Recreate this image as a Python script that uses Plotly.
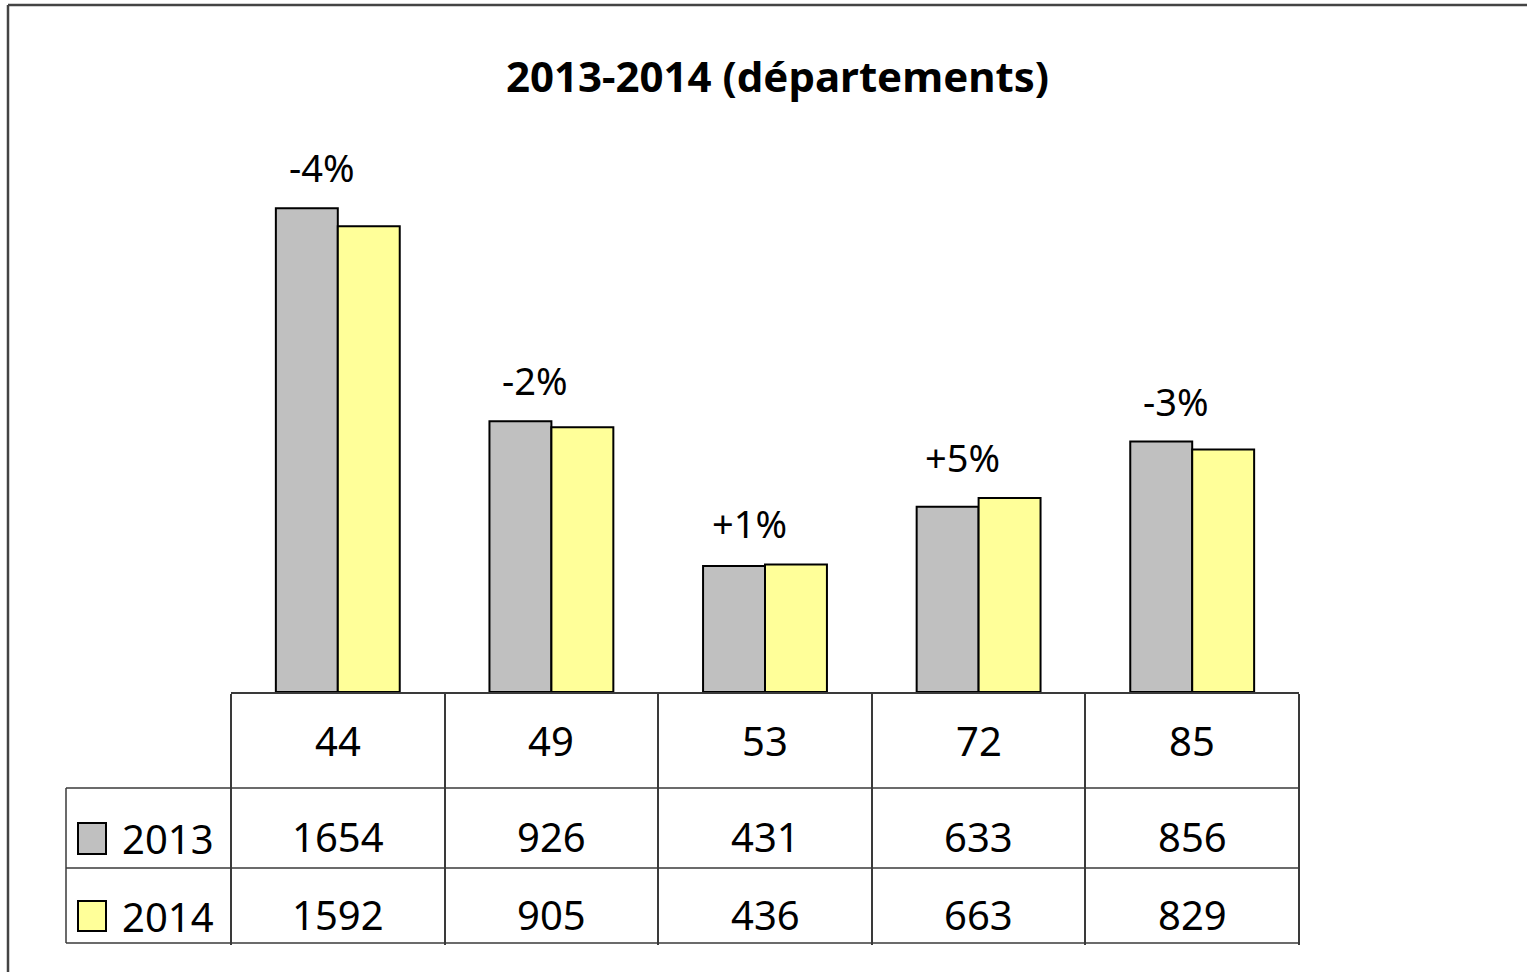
import plotly.graph_objects as go

# ---- data ----
departements = ["44", "49", "53", "72", "85"]
series_names = ["2013", "2014"]
values_2013 = [1654, 926, 431, 633, 856]
values_2014 = [1592, 905, 436, 663, 829]
color_2013 = "#C0C0C0"
color_2014 = "#FFFF99"

W, H = 1527, 972
FONT = "Noto Sans"

def px(x):
    return x / W

def py(y):
    return 1 - y / H

# plot area in pixels
X0, X1 = 231, 1299
Y_TOP, Y_BASE = 107, 692
Y_MAX = 2000

fig = go.Figure()
fig.add_trace(go.Bar(x=departements, y=values_2013, name=series_names[0],
                     marker=dict(color=color_2013, line=dict(color="black", width=2))))
fig.add_trace(go.Bar(x=departements, y=values_2014, name=series_names[1],
                     marker=dict(color=color_2014, line=dict(color="black", width=2))))

annotations = []
# percentage change labels
for i, (a, b) in enumerate(zip(values_2013, values_2014)):
    pct = round((b - a) / a * 100)
    txt = f"{pct:+d}%"
    annotations.append(dict(x=i, y=max(a, b), xref="x", yref="y", text=txt,
                            showarrow=False, xshift=-16, yshift=41,
                            yanchor="middle",
                            font=dict(family=FONT, size=38, color="black")))

# table text
row_header_y, row13_y, row14_y = 740, 836, 914
for i, (d, a, b) in enumerate(zip(departements, values_2013, values_2014)):
    for txt, yy in [(d, row_header_y), (str(a), row13_y), (str(b), row14_y)]:
        annotations.append(dict(x=i, y=py(yy), xref="x", yref="paper", text=txt,
                                showarrow=False, xanchor="center", yanchor="middle",
                                font=dict(family=FONT, size=40, color="black")))

# legend labels in table
for name, yy in zip(series_names, [row13_y + 2, row14_y + 2]):
    annotations.append(dict(x=px(168), y=py(yy), xref="paper", yref="paper", text=name,
                            showarrow=False, xanchor="center", yanchor="middle",
                            font=dict(family=FONT, size=40, color="black")))

# title
annotations.append(dict(x=px(777), y=py(76), xref="paper", yref="paper",
                        text="<b>2013-2014 (départements)</b>", showarrow=False,
                        xanchor="center", yanchor="middle",
                        font=dict(family=FONT, size=42, color="black")))

line_col = "#3a3a3a"
shapes = []
# horizontal table lines
for yy in [788, 868, 943]:
    shapes.append(dict(type="line", xref="paper", yref="paper",
                       x0=px(66), x1=px(X1), y0=py(yy), y1=py(yy),
                       line=dict(color=line_col, width=1.5)))
# left table line
shapes.append(dict(type="line", xref="paper", yref="paper",
                   x0=px(66), x1=px(66), y0=py(788), y1=py(943),
                   line=dict(color=line_col, width=1.5)))
# legend keys
for col, (y0, y1) in zip([color_2013, color_2014], [(823, 854), (901, 931)]):
    shapes.append(dict(type="rect", xref="paper", yref="paper",
                       x0=px(78), x1=px(106), y0=py(y1), y1=py(y0),
                       fillcolor=col, line=dict(color="black", width=2)))
# outer frame (top and left)
shapes.append(dict(type="line", xref="paper", yref="paper",
                   x0=px(8), x1=1, y0=py(5), y1=py(5),
                   line=dict(color="#444444", width=2.5)))
shapes.append(dict(type="line", xref="paper", yref="paper",
                   x0=px(8), x1=px(8), y0=py(5), y1=0,
                   line=dict(color="#444444", width=2.5)))

fig.update_layout(
    width=W, height=H, autosize=False,
    margin=dict(l=0, r=0, t=0, b=0),
    paper_bgcolor="white", plot_bgcolor="white",
    barmode="group", bargap=0.42, bargroupgap=0,
    showlegend=False,
    annotations=annotations, shapes=shapes,
    xaxis=dict(domain=[px(X0), px(X1)], type="category", range=[-0.5, 4.5],
               showline=True, linecolor=line_col, linewidth=1.5,
               ticks="outside", tickson="boundaries", ticklen=251,
               tickcolor=line_col, tickwidth=1.5,
               showticklabels=False, showgrid=False, zeroline=False),
    yaxis=dict(domain=[py(Y_BASE), py(Y_TOP)], range=[0, Y_MAX],
               visible=False, showgrid=False, zeroline=False),
)

fig.write_html("out.html", config={"displayModeBar": False},
               post_script="document.body.style.margin='0';document.body.style.overflow='hidden';")
